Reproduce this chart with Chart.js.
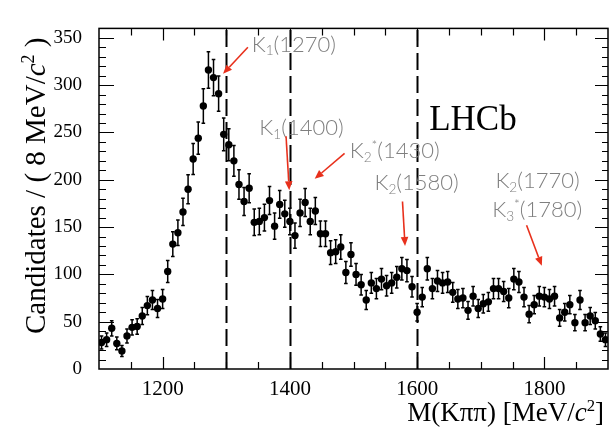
<!DOCTYPE html>
<html><head><meta charset="utf-8">
<script src="https://cdn.jsdelivr.net/npm/chart.js@4.4.0/dist/chart.umd.min.js"></script>
<style>html,body{margin:0;padding:0;background:#fff;overflow:hidden}</style>
</head><body>
<canvas id="c" width="613" height="435"></canvas>
<script>
// ---- data ----
const massBins = [1104,1112,1120,1128,1136,1144,1152,1160,1168,1176,1184,1192,1200,1208,1216,1224,1232,1240,1248,1256,
1264,1272,1280,1288,1296,1304,1312,1320,1328,1336,1344,1352,1360,1368,1376,1384,1392,1400,1408,1416,
1424,1432,1440,1448,1456,1464,1472,1480,1488,1496,1504,1512,1520,1528,1536,1544,1552,1560,1568,1576,
1584,1592,1600,1608,1616,1624,1632,1640,1648,1656,1664,1672,1680,1688,1696,1704,1712,1720,1728,1736,
1744,1752,1760,1768,1776,1784,1792,1800,1808,1816,1824,1832,1840,1848,1856,1864,1872,1880,1888,1896];
const candidates = [28,31,43,27,19,35,44,45,56,67,73,64,74,103,132,144,166,190,222,244,
278,316,308,291,248,237,220,195,177,191,155,156,160,178,151,174,164,156,141,165,
176,156,167,143,143,123,124,129,102,121,100,89,73,91,85,95,88,91,97,106,
104,87,60,76,106,85,93,91,92,81,74,75,62,77,64,69,71,85,85,82,
75,95,92,76,58,68,77,76,74,77,54,60,68,49,73,49,56,51,37,31];
const errors = [6.8,7.1,8.1,6.7,5.9,7.4,8.1,8.2,9.0,9.7,10.0,9.5,10.1,11.6,13.0,13.5,14.4,15.3,16.4,17.1,
18.2,19.3,19.1,18.6,17.2,16.9,16.3,15.5,14.8,15.3,14.0,14.0,14.1,14.8,13.8,14.7,14.3,14.0,13.4,14.3,
14.8,14.0,14.4,13.5,13.5,12.6,12.6,12.9,11.6,12.5,11.5,10.9,10.0,11.0,10.7,11.2,10.9,11.0,11.3,11.8,
11.7,10.8,9.2,10.2,11.8,10.7,11.1,11.0,11.1,10.5,10.1,10.2,9.4,10.3,9.5,9.8,9.9,10.7,10.7,10.6,
10.2,11.2,11.1,10.2,9.1,9.7,10.3,10.2,10.1,10.3,8.8,9.2,9.7,8.5,10.0,8.5,9.0,8.6,7.6,7.1];
const xTickLabels = [1200,1400,1600,1800];
const yTickLabels = [0,50,100,150,200,250,300,350];
const markerLines = [1300,1400,1600];
const resonanceNames = [
  [['K'],['1','sub'],['(1270)']],
  [['K'],['1','sub'],['(1400)']],
  [['K'],['2','sub'],['*','sup'],['(1430)']],
  [['K'],['2','sub'],['(1580)']],
  [['K'],['2','sub'],['(1770)']],
  [['K'],['3','sub'],['*','sup'],['(1780)']]
];
// label anchor (data coords) and arrow tail/head (data coords)
const labelAnchors = [[1340,344],[1352,256],[1494,231],[1533,198],[1723,200],[1718,169]];
const arrows = [[1334,340,1295,312],[1394,246,1399,189],[1486,228,1439,201],[1577,177,1581,130],null,[1772,152,1796,109]];

const SERIF = '"Liberation Serif","Times New Roman",serif';
const SANS = 'Lato,"Open Sans",sans-serif';

function drawParts(ctx, parts, x, y, size, family, weight, color) {
  let cx = x;
  ctx.fillStyle = color;
  ctx.textBaseline = 'alphabetic';
  ctx.textAlign = 'left';
  for (const p of parts) {
    const t = p[0], kind = p[1] || '';
    let fs = size, dy = 0, style = '';
    if (kind.includes('sub')) { fs = size * 0.62; dy = size * 0.18; }
    if (kind.includes('sup')) { fs = size * 0.62; dy = -size * 0.38; }
    if (kind.includes('it')) style = 'italic ';
    ctx.font = style + (weight || 'normal') + ' ' + fs + 'px ' + family;
    ctx.fillText(t, cx, y + dy);
    cx += ctx.measureText(t).width;
  }
  return cx - x;
}
function measureParts(ctx, parts, size, family, weight) {
  let w = 0;
  for (const p of parts) {
    const kind = p[1] || '';
    let fs = size; let style = '';
    if (kind.includes('sub') || kind.includes('sup')) fs = size * 0.62;
    if (kind.includes('it')) style = 'italic ';
    ctx.font = style + (weight || 'normal') + ' ' + fs + 'px ' + family;
    w += ctx.measureText(p[0]).width;
  }
  return w;
}

const framePlugin = {
  id: 'frame',
  beforeDatasetsDraw(chart) {
    const ctx = chart.ctx, xs = chart.scales.x, ys = chart.scales.y, a = chart.chartArea;
    ctx.save();
    ctx.strokeStyle = '#000'; ctx.lineWidth = 2; ctx.setLineDash([17, 6]);
    for (const m of markerLines) {
      const px = Math.round(xs.getPixelForValue(m)) + 0.5;
      ctx.beginPath(); ctx.moveTo(px, a.bottom); ctx.lineTo(px, a.top); ctx.stroke();
    }
    ctx.setLineDash([]);
    ctx.lineWidth = 1.5;
    for (let i = 0; i < massBins.length; i++) {
      const px = xs.getPixelForValue(massBins[i]);
      const y1 = ys.getPixelForValue(candidates[i] - errors[i]);
      const y2 = ys.getPixelForValue(Math.min(candidates[i] + errors[i], 360));
      ctx.beginPath();
      ctx.moveTo(px, y1); ctx.lineTo(px, y2);
      ctx.moveTo(px - 1.8, y1); ctx.lineTo(px + 1.8, y1);
      ctx.moveTo(px - 1.8, y2); ctx.lineTo(px + 1.8, y2);
      ctx.stroke();
    }
    ctx.restore();
  },
  afterDraw(chart) {
    const ctx = chart.ctx, xs = chart.scales.x, ys = chart.scales.y, a = chart.chartArea;
    ctx.save();
    ctx.strokeStyle = '#000'; ctx.lineWidth = 1.5;
    ctx.strokeRect(a.left, a.top, a.right - a.left, a.bottom - a.top);
    ctx.lineWidth = 1.2;
    ctx.beginPath();
    for (let v = 1150; v < 1900; v += 50) {
      const px = Math.round(xs.getPixelForValue(v)) + 0.5;
      const L = xTickLabels.includes(v) ? 12 : 7;
      ctx.moveTo(px, a.bottom); ctx.lineTo(px, a.bottom - L);
      ctx.moveTo(px, a.top); ctx.lineTo(px, a.top + L);
    }
    for (let v = 10; v < 360; v += 10) {
      const py = Math.round(ys.getPixelForValue(v)) + 0.5;
      const major = yTickLabels.includes(v);
      ctx.moveTo(a.left, py); ctx.lineTo(a.left + (major ? 15 : 7), py);
      ctx.moveTo(a.right, py); ctx.lineTo(a.right - (major ? 13 : 6), py);
    }
    ctx.stroke();

    const ytitle = [['Candidates / ( 8 MeV/'], ['c', 'it'], ['2', 'sup'], [' )']];
    ctx.save();
    ctx.translate(45, 334);
    ctx.rotate(-Math.PI / 2);
    drawParts(ctx, ytitle, 0, 0, 29, SERIF, 'normal', '#000');
    ctx.restore();
    const xtitle = [['M(K\u03c0\u03c0) [MeV/'], ['c', 'it'], ['2', 'sup'], [']']];
    const wx = measureParts(ctx, xtitle, 27, SERIF, 'normal');
    drawParts(ctx, xtitle, 604 - wx, 421, 27, SERIF, 'normal', '#000');

    ctx.font = '35px ' + SERIF; ctx.fillStyle = '#000'; ctx.textAlign = 'left'; ctx.textBaseline = 'alphabetic';
    ctx.fillText('LHCb', xs.getPixelForValue(1619), ys.getPixelForValue(253));

    for (let i = 0; i < resonanceNames.length; i++) {
      const lx = xs.getPixelForValue(labelAnchors[i][0]);
      const ly = ys.getPixelForValue(labelAnchors[i][1]);
      drawParts(ctx, resonanceNames[i], lx, ly + 8, 22, SANS, '300', '#7f7f7f');
    }
    ctx.strokeStyle = '#e8301c'; ctx.fillStyle = '#e8301c'; ctx.lineWidth = 1.6;
    for (const ar of arrows) {
      if (!ar) continue;
      const x1 = xs.getPixelForValue(ar[0]), y1 = ys.getPixelForValue(ar[1]);
      const x2 = xs.getPixelForValue(ar[2]), y2 = ys.getPixelForValue(ar[3]);
      const ang = Math.atan2(y2 - y1, x2 - x1);
      const hl = 9, hw = 3.8;
      const bx = x2 - hl * Math.cos(ang), by = y2 - hl * Math.sin(ang);
      ctx.beginPath(); ctx.moveTo(x1, y1); ctx.lineTo(bx, by); ctx.stroke();
      ctx.beginPath();
      ctx.moveTo(x2, y2);
      ctx.lineTo(bx + hw * Math.sin(ang), by - hw * Math.cos(ang));
      ctx.lineTo(bx - hw * Math.sin(ang), by + hw * Math.cos(ang));
      ctx.closePath(); ctx.fill();
    }
    ctx.restore();
  }
};

new Chart(document.getElementById('c'), {
  type: 'scatter',
  data: {
    datasets: [{
      data: massBins.map((m, i) => ({ x: m, y: candidates[i] })),
      pointRadius: 3.7,
      pointBackgroundColor: '#000',
      pointBorderWidth: 0,
      showLine: false
    }]
  },
  options: {
    responsive: false,
    animation: false,
    devicePixelRatio: 1,
    layout: { padding: { top: 12, right: 5, left: 0, bottom: 0 } },
    plugins: { legend: { display: false }, tooltip: { enabled: false } },
    scales: {
      x: {
        type: 'linear', min: 1100, max: 1900,
        grid: { display: false, drawTicks: false },
        border: { display: false },
        afterBuildTicks: s => { s.ticks = xTickLabels.map(v => ({ value: v })); },
        afterFit: s => { s.height = 66; },
        ticks: { font: { family: SERIF, size: 21 }, color: '#000', padding: 8, maxRotation: 0,
                 callback: v => String(v) }
      },
      y: {
        type: 'linear', min: 0, max: 360,
        grid: { display: false, drawTicks: false },
        border: { display: false },
        afterBuildTicks: s => { s.ticks = yTickLabels.map(v => ({ value: v })); },
        afterFit: s => { s.width = 99; },
        ticks: { font: { family: SERIF, size: 19 }, color: '#000', padding: 17,
                 callback: v => String(v) }
      }
    }
  },
  plugins: [framePlugin]
});
</script>
</body></html>
